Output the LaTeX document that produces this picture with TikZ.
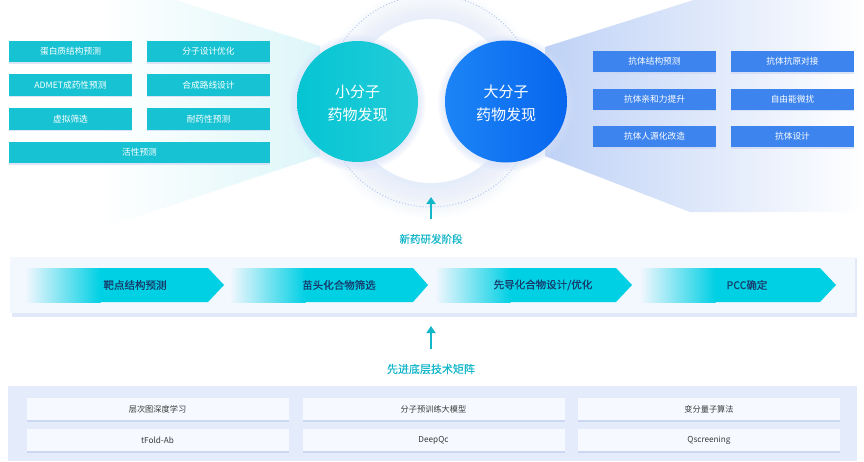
\documentclass[tikz,border=0pt]{standalone}
\usepackage{fontspec}
\setmainfont{Noto Sans CJK SC}
\newfontfamily\medfont[FakeBold=0.45]{Noto Sans CJK SC}
\usetikzlibrary{shadows,arrows.meta}
\definecolor{cyanbox}{HTML}{17C3D3}
\definecolor{smallc}{HTML}{05C5D3}
\definecolor{bigcL}{HTML}{1C84F6}
\definecolor{bigcR}{HTML}{0766EE}
\definecolor{bluebox}{HTML}{3D84EE}
\definecolor{chev}{HTML}{00D0E4}
\definecolor{chevtext}{HTML}{173B6B}
\definecolor{labcyan}{HTML}{14B6CA}
\definecolor{bandbg}{HTML}{F3F7FE}
\definecolor{panelbg}{HTML}{E4EBFB}
\definecolor{panelbox}{HTML}{F6F9FF}
\definecolor{paneltext}{HTML}{3A3A3A}
\definecolor{fanL}{HTML}{DDF6F9}
\definecolor{fanLl}{HTML}{F3F6FD}
\definecolor{fanR}{HTML}{BFD2F6}
\definecolor{glow}{HTML}{D6E1FA}
\definecolor{dotc}{HTML}{B5C8F2}
\definecolor{shadowc}{HTML}{C7D4F2}
\begin{document}
\begin{tikzpicture}[x=1pt,y=-1pt,
  sbox/.style={rectangle,fill=cyanbox,text=white,minimum width=123pt,minimum height=21.5pt,inner sep=0pt,font=\fontsize{8.7}{10}\selectfont,drop shadow={shadow xshift=0pt,shadow yshift=-1.5pt,fill=shadowc,opacity=0.6}},
  bbox/.style={rectangle,fill=bluebox,text=white,minimum width=123pt,minimum height=21pt,inner sep=0pt,font=\fontsize{8.7}{10}\selectfont,drop shadow={shadow xshift=0pt,shadow yshift=-1.5pt,fill=shadowc,opacity=0.6}},
  tbox/.style={rectangle,fill=panelbox,text=paneltext,minimum width=262pt,minimum height=22pt,inner sep=0pt,font=\fontsize{8.2}{10}\selectfont,drop shadow={shadow xshift=0pt,shadow yshift=-1.5pt,fill=shadowc,opacity=0.8}},
  circtext/.style={text=white,align=center,font=\fontsize{15}{23}\selectfont},
  chevlab/.style={text=chevtext,font=\fontsize{10.5}{12}\selectfont\medfont},
  lab/.style={text=labcyan,font=\fontsize{10.5}{12}\selectfont\medfont},
  uparrow/.style={draw=labcyan,line width=2pt,-{Triangle[width=9pt,length=7pt]}}
]
\useasboundingbox (0,0) rectangle (864,461);
\fill[white] (0,0) rectangle (864,461);
% fans
\shade[left color=white,middle color=fanLl,right color=fanL] (100,-24) -- (320,46) -- (320,156) -- (100,229) -- cycle;
\shade[left color=fanR,middle color=fanR!22!white,right color=white] (545,47) -- (700,-2) -- (864,-2) -- (864,212) -- (690,212) -- (545,156) -- cycle;
% glow and white circle
\foreach \r in {84,87,...,114} \fill[glow,opacity=0.06] (431,104) circle (\r);
\fill[white] (431,101) circle (82);
\draw[dotc,dotted,line width=1pt] (431,101) circle (106);
% circles
\foreach \r in {62,63.5,...,68} {\fill[glow,opacity=0.15] (357.5,103) circle (\r); \fill[glow,opacity=0.15] (506,103) circle (\r);}
\shade[left color=smallc,right color=smallc!88!white] (357.5,101.5) circle (60.5);
\shade[left color=bigcL,right color=bigcR] (506,101.5) circle (61);
\node[circtext] (small) at (357.5,103.5) {小分子\\药物发现};
\node[circtext] (large) at (506,103.5) {大分子\\药物发现};
% left boxes
\node[sbox] (l1) at (70.5,51.3) {蛋白质结构预测};
\node[sbox] (l2) at (208.5,51.3) {分子设计优化};
\node[sbox] (l3) at (70.5,85) {ADMET成药性预测};
\node[sbox] (l4) at (208.5,85) {合成路线设计};
\node[sbox] (l5) at (70.5,119) {虚拟筛选};
\node[sbox] (l6) at (208.5,119) {耐药性预测};
\node[sbox,minimum width=261pt] (l7) at (139.5,152.5) {活性预测};
% right boxes
\node[bbox] (r1) at (654.5,61.5) {抗体结构预测};
\node[bbox] (r2) at (792.5,61.5) {抗体抗原对接};
\node[bbox] (r3) at (654.5,99) {抗体亲和力提升};
\node[bbox] (r4) at (792.5,99) {自由能微扰};
\node[bbox] (r5) at (654.5,136.5) {抗体人源化改造};
\node[bbox] (r6) at (792.5,136.5) {抗体设计};
% arrow 1
\coordinate (a1s) at (431,219);
\coordinate (a1e) at (431,197);
\draw[uparrow] (a1s) -- (a1e);
\node[lab] (stage) at (431,239) {新药研发阶段};
% band
\fill[shadowc,opacity=0.5] (12,258) rectangle (857,317);
\fill[bandbg] (10,257) rectangle (855,313);
% chevrons
\foreach \xs/\xr/\xt in {25/208/224, 230/413/428, 435/616/632, 640/820/836} {
  \fill[chev] (\xs+75,268) -- (\xr,268) -- (\xt,285) -- (\xr,302) -- (\xs+75,302) -- cycle;
  \shade[left color=bandbg,right color=chev] (\xs,268) rectangle (\xs+75.5,302);
}
\node[chevlab] (c1) at (135,285) {靶点结构预测};
\node[chevlab] (c2) at (339,285) {苗头化合物筛选};
\node[chevlab] (c3) at (543,285) {先导化合物设计/优化};
\node[chevlab] (c4) at (747,285) {PCC确定};
% arrow 2
\coordinate (a2s) at (431,349);
\coordinate (a2e) at (431,326);
\draw[uparrow] (a2s) -- (a2e);
\node[lab,font=\fontsize{11}{13}\selectfont\medfont] (tech) at (431,369) {先进底层技术矩阵};
% bottom panel
\fill[panelbg] (8,386) rectangle (857,461);
\node[tbox] (t1) at (157.5,409) {层次图深度学习};
\node[tbox] (t2) at (433.5,409) {分子预训练大模型};
\node[tbox] (t3) at (709,409) {变分量子算法};
\node[tbox] (t4) at (157.5,440) {tFold-Ab};
\node[tbox] (t5) at (433.5,440) {DeepQc};
\node[tbox] (t6) at (709,440) {Qscreening};
\end{tikzpicture}
\end{document}
